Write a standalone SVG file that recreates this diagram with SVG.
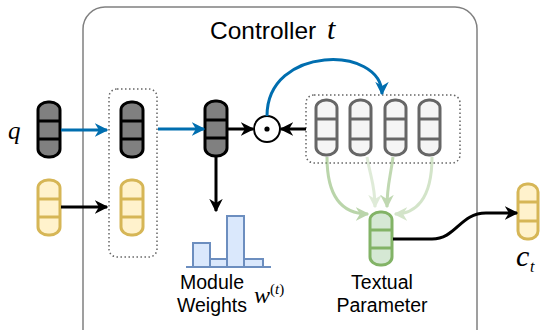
<svg xmlns="http://www.w3.org/2000/svg" width="541" height="330" viewBox="0 0 541 330">
  <style>
    .vec-dark { fill: #808080; stroke: #000000; stroke-width: 3; }
    .vec-yellow { fill: #fff2cc; stroke: #d6b656; stroke-width: 3; }
    .vec-gray { fill: #f5f5f5; stroke: #666666; stroke-width: 3; }
    .vec-green { fill: #d5e8d4; stroke: #82b366; stroke-width: 3; }
    .sep-dark { stroke: #000000; stroke-width: 3; }
    .sep-yellow { stroke: #d6b656; stroke-width: 3; }
    .sep-gray { stroke: #666666; stroke-width: 3; }
    .sep-green { stroke: #82b366; stroke-width: 3; }
    .group-box { fill: none; stroke: #666666; stroke-width: 1.5; stroke-dasharray: 1.5 2.5; }
    .bar { fill: #dae8fc; stroke: #6c8ebf; stroke-width: 2; }
    .label { font-family: "Liberation Sans", Arial, sans-serif; font-size: 19.5px; fill: #000000; }
    .math { font-family: "Liberation Serif", "Times New Roman", serif; font-style: italic; fill: #000000; }
    .blue { fill: none; stroke: #006eaf; stroke-width: 3; }
    .black { fill: none; stroke: #000000; stroke-width: 3; }
    .green { fill: none; stroke: #82b366; stroke-width: 3; }
  </style>
  <defs>
    <marker id="arrow-blue" viewBox="0 0 10 10" refX="9" refY="5" markerWidth="4.5" markerHeight="4.5" orient="auto" markerUnits="strokeWidth">
      <path d="M0,0 L10,5 L0,10 L3,5 z" fill="#006eaf"/>
    </marker>
    <marker id="arrow-black" viewBox="0 0 10 10" refX="9" refY="5" markerWidth="4.5" markerHeight="4.5" orient="auto" markerUnits="strokeWidth">
      <path d="M0,0 L10,5 L0,10 L3,5 z" fill="#000000"/>
    </marker>
    <marker id="arrow-green" viewBox="0 0 10 10" refX="9" refY="5" markerWidth="4.5" markerHeight="4.5" orient="auto" markerUnits="strokeWidth">
      <path d="M0,0 L10,5 L0,10 L3,5 z" fill="#82b366"/>
    </marker>
  </defs>

  <rect width="541" height="330" fill="#ffffff"/>

  <!-- controller frame -->
  <g id="controller">
    <rect x="83" y="7" width="394" height="345" rx="22" ry="22" fill="none" stroke="#808080" stroke-width="1.5"/>
    <text x="210" y="39" class="label" style="font-size:24.5px">Controller</text>
    <text x="327" y="39" class="math" style="font-size:30px">t</text>
  </g>

  <!-- query vector q -->
  <g id="q">
    <text x="8" y="139" class="math" style="font-size:25px">q</text>
    <rect x="38" y="102" width="22" height="55" rx="10" ry="8" class="vec-dark"/>
    <line x1="38" y1="121" x2="60" y2="121" class="sep-dark"/>
    <line x1="38" y1="139" x2="60" y2="139" class="sep-dark"/>
  </g>

  <!-- previous context vector -->
  <g id="c-prev">
    <rect x="38" y="180" width="22" height="55" rx="10" ry="8" class="vec-yellow"/>
    <line x1="38" y1="199" x2="60" y2="199" class="sep-yellow"/>
    <line x1="38" y1="217" x2="60" y2="217" class="sep-yellow"/>
  </g>

  <!-- concatenated input -->
  <g id="concat">
    <rect x="109" y="89" width="48" height="168" rx="8" ry="8" class="group-box"/>
    <rect x="121" y="102" width="22" height="55" rx="10" ry="8" class="vec-dark"/>
    <line x1="121" y1="121" x2="143" y2="121" class="sep-dark"/>
    <line x1="121" y1="139" x2="143" y2="139" class="sep-dark"/>
    <rect x="121" y="180" width="22" height="55" rx="10" ry="8" class="vec-yellow"/>
    <line x1="121" y1="199" x2="143" y2="199" class="sep-yellow"/>
    <line x1="121" y1="217" x2="143" y2="217" class="sep-yellow"/>
  </g>

  <!-- projected controller state -->
  <g id="state">
    <rect x="205" y="101" width="22" height="55" rx="10" ry="8" class="vec-dark"/>
    <line x1="205" y1="120" x2="227" y2="120" class="sep-dark"/>
    <line x1="205" y1="138" x2="227" y2="138" class="sep-dark"/>
  </g>

  <!-- elementwise product -->
  <g id="product">
    <circle cx="267" cy="129" r="13" fill="#ffffff" stroke="#000000" stroke-width="2"/>
    <circle cx="267" cy="129" r="2.6" fill="#000000"/>
  </g>

  <!-- word representations -->
  <g id="words">
    <rect x="306" y="95" width="154" height="68" rx="8" ry="8" class="group-box"/>
    <rect x="316" y="100" width="21" height="55" rx="10" ry="8" class="vec-gray"/>
    <line x1="316" y1="119" x2="337" y2="119" class="sep-gray"/>
    <line x1="316" y1="139" x2="337" y2="139" class="sep-gray"/>
    <rect x="350" y="100" width="21" height="55" rx="10" ry="8" class="vec-gray"/>
    <line x1="350" y1="119" x2="371" y2="119" class="sep-gray"/>
    <line x1="350" y1="139" x2="371" y2="139" class="sep-gray"/>
    <rect x="385" y="100" width="21" height="55" rx="10" ry="8" class="vec-gray"/>
    <line x1="385" y1="119" x2="406" y2="119" class="sep-gray"/>
    <line x1="385" y1="139" x2="406" y2="139" class="sep-gray"/>
    <rect x="419" y="100" width="21" height="55" rx="10" ry="8" class="vec-gray"/>
    <line x1="419" y1="119" x2="440" y2="119" class="sep-gray"/>
    <line x1="419" y1="139" x2="440" y2="139" class="sep-gray"/>
  </g>

  <!-- module weights histogram -->
  <g id="module-weights">
    <rect x="193" y="243" width="17" height="24" class="bar"/>
    <rect x="210" y="259" width="17" height="8" class="bar"/>
    <rect x="227" y="216" width="17" height="51" class="bar"/>
    <rect x="244" y="259" width="19" height="8" class="bar"/>
    <line x1="186" y1="267" x2="271" y2="267" stroke="#6c8ebf" stroke-width="2"/>
    <text x="212" y="289" class="label" text-anchor="middle">Module</text>
    <text x="212" y="312" class="label" text-anchor="middle">Weights</text>
    <text x="254" y="303" class="math" style="font-size:24px">w</text>
    <text x="270" y="294" class="math" style="font-size:15px"><tspan font-style="normal">(</tspan>t<tspan font-style="normal">)</tspan></text>
  </g>

  <!-- textual parameter -->
  <g id="textual-parameter">
    <rect x="370" y="212" width="22" height="53" rx="10" ry="8" class="vec-green"/>
    <line x1="370" y1="230" x2="392" y2="230" class="sep-green"/>
    <line x1="370" y1="248" x2="392" y2="248" class="sep-green"/>
    <text x="382" y="289" class="label" text-anchor="middle">Textual</text>
    <text x="382" y="312" class="label" text-anchor="middle">Parameter</text>
  </g>

  <!-- output context c_t -->
  <g id="c-t">
    <rect x="518" y="184" width="20" height="55" rx="9" ry="8" class="vec-yellow"/>
    <line x1="518" y1="202" x2="538" y2="202" class="sep-yellow"/>
    <line x1="518" y1="221" x2="538" y2="221" class="sep-yellow"/>
    <text x="516" y="266" class="math" style="font-size:30px">c</text>
    <text x="530" y="272" class="math" style="font-size:16px">t</text>
  </g>

  <!-- connectors -->
  <g id="connectors">
    <path d="M61 130 L107 130" class="blue" marker-end="url(#arrow-blue)"/>
    <path d="M158 129 L204 129" class="blue" marker-end="url(#arrow-blue)"/>
    <path d="M267 116 C267 45, 382 45, 382 94" class="blue" marker-end="url(#arrow-blue)"/>
    <path d="M61 207 L107 207" class="black" marker-end="url(#arrow-black)"/>
    <path d="M228 129 L253 129" class="black" marker-end="url(#arrow-black)"/>
    <path d="M306 129 L281 129" class="black" marker-end="url(#arrow-black)"/>
    <path d="M216 157 L216 211" class="black" marker-end="url(#arrow-black)"/>
    <g opacity="0.55"><path d="M327 157 C327 200, 345 214, 368 214" class="green" marker-end="url(#arrow-green)"/></g>
    <g opacity="0.25"><path d="M367 157 C371 180, 375 185, 375 207" class="green" marker-end="url(#arrow-green)"/></g>
    <g opacity="0.5"><path d="M393 157 C390 180, 387 185, 387 207" class="green" marker-end="url(#arrow-green)"/></g>
    <g opacity="0.35"><path d="M432 157 C432 200, 415 214, 395 214" class="green" marker-end="url(#arrow-green)"/></g>
    <path d="M393 239 L432 239 C456 239, 460 213, 486 213 L517 213" class="black" marker-end="url(#arrow-black)"/>
  </g>
</svg>
